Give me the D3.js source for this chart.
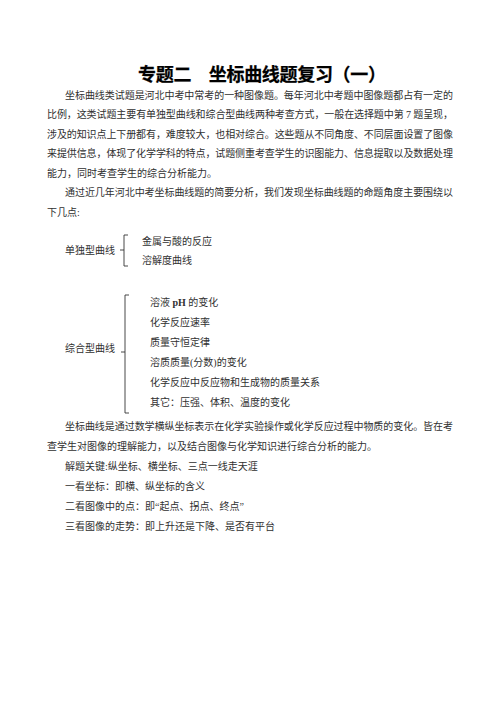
<!DOCTYPE html>
<html>
<head>
<meta charset="utf-8">
<script src="https://cdn.jsdelivr.net/npm/d3@7"></script>
<style>
  html, body { margin: 0; padding: 0; background: #fff; }
  svg { display: block; }
</style>
</head>
<body>
<div id="chart"></div>
<script>
// ---------- content ----------
const titleText = "专题二\u3000坐标曲线题复习（一）";

const introParagraphs = [
  [
    "坐标曲线类试题是河北中考中常考的一种图像题。每年河北中考题中图像题都占有一定的",
    "比例，这类试题主要有单独型曲线和综合型曲线两种考查方式，一般在选择题中第 7 题呈现，",
    "涉及的知识点上下册都有，难度较大，也相对综合。这些题从不同角度、不同层面设置了图像",
    "来提供信息，体现了化学学科的特点，试题侧重考查学生的识图能力、信息提取以及数据处理",
    "能力，同时考查学生的综合分析能力。"
  ],
  [
    "通过近几年河北中考坐标曲线题的简要分析，我们发现坐标曲线题的命题角度主要围绕以",
    "下几点:"
  ]
];

const singleLabel = "单独型曲线";
const singleItems = ["金属与酸的反应", "溶解度曲线"];

const comboLabel = "综合型曲线";
const comboItems = [
  "溶液 pH 的变化",
  "化学反应速率",
  "质量守恒定律",
  "溶质质量(分数)的变化",
  "化学反应中反应物和生成物的质量关系",
  "其它：压强、体积、温度的变化"
];

const outroParagraphs = [
  [
    "坐标曲线是通过数学横纵坐标表示在化学实验操作或化学反应过程中物质的变化。皆在考",
    "查学生对图像的理解能力，以及结合图像与化学知识进行综合分析的能力。"
  ],
  ["解题关键:纵坐标、横坐标、三点一线走天涯"],
  ["一看坐标：即横、纵坐标的含义"],
  ["二看图像中的点：即“起点、拐点、终点”"],
  ["三看图像的走势：即上升还是下降、是否有平台"]
];

// ---------- layout ----------
const W = 496, H = 702;
const FONT = "'Liberation Serif', 'Noto Sans CJK SC', serif";
const TITLE_FONT = "'Noto Sans CJK SC', sans-serif";
const fs = 10;
const TXT = "#303030";
const left = 47, right = 453, indent = 18;

const svg = d3.select("#chart").append("svg")
  .attr("width", W).attr("height", H)
  .attr("viewBox", `0 0 ${W} ${H}`);

function flatten(paras) {
  const out = [];
  paras.forEach(p => p.forEach((t, i) => out.push({
    text: t, first: i === 0, last: i === p.length - 1
  })));
  return out;
}

function drawBlock(lines, yScale, cls) {
  svg.append("g").attr("class", cls)
    .selectAll("text").data(lines).join("text")
    .attr("x", d => d.first ? left + indent : left)
    .attr("y", (d, i) => yScale(i))
    .attr("dominant-baseline", "central")
    .attr("font-family", FONT)
    .attr("font-size", fs)
    .attr("fill", TXT)
    .each(function (d) {
      if (!d.last) {
        const x0 = d.first ? left + indent : left;
        d3.select(this).attr("textLength", right - x0).attr("lengthAdjust", "spacing");
      }
    })
    .text(d => d.text);
}

// title
svg.append("text")
  .attr("x", 138).attr("y", 73)
  .attr("dominant-baseline", "central")
  .attr("font-family", TITLE_FONT)
  .attr("font-weight", "bold")
  .attr("font-size", 18)
  .attr("textLength", 248).attr("lengthAdjust", "spacing")
  .attr("fill", "#000")
  .attr("stroke", "#000").attr("stroke-width", 0.25)
  .text(titleText);

// intro paragraphs
const introLines = flatten(introParagraphs);
const yIntro = d3.scaleLinear().domain([0, introLines.length - 1]).range([95, 212]);
drawBlock(introLines, yIntro, "intro");

// outro paragraphs
const outroLines = flatten(outroParagraphs);
const yOutro = d3.scaleLinear().domain([0, outroLines.length - 1]).range([426, 526]);
drawBlock(outroLines, yOutro, "outro");

// brace groups
function drawGroup(label, items, yScale, labelY, braceX, top, bottom, mid, itemX) {
  const g = svg.append("g");
  g.append("text")
    .attr("x", 65).attr("y", labelY)
    .attr("dominant-baseline", "central")
    .attr("font-family", FONT).attr("font-size", fs).attr("fill", TXT)
    .text(label);
  g.selectAll("text.item").data(items).join("text")
    .attr("class", "item")
    .attr("x", itemX).attr("y", (d, i) => yScale(i))
    .attr("dominant-baseline", "central")
    .attr("font-family", FONT).attr("font-size", fs).attr("fill", TXT)
    .each(function (d) {
      const t = d3.select(this);
      // render Latin "pH" in bold as in the source
      const parts = d.split(/(pH)/);
      parts.forEach(s => {
        if (!s) return;
        t.append("tspan").attr("font-weight", s === "pH" ? "bold" : null).text(s);
      });
    });
  const p = d3.path();
  p.moveTo(braceX + 4, top);
  p.lineTo(braceX, top);
  p.lineTo(braceX, bottom);
  p.lineTo(braceX + 4, bottom);
  p.moveTo(braceX, mid);
  p.lineTo(braceX - 4, mid);
  g.append("path").attr("d", p.toString())
    .attr("fill", "none").attr("stroke", "#333").attr("stroke-width", 0.9);
}

const ySingle = d3.scaleLinear().domain([0, singleItems.length - 1]).range([241, 260]);
drawGroup(singleLabel, singleItems, ySingle, 250, 124, 235, 266, 250, 142);

const yCombo = d3.scaleLinear().domain([0, comboItems.length - 1]).range([302, 402]);
drawGroup(comboLabel, comboItems, yCombo, 348, 125, 295, 413, 352, 150);
</script>
</body>
</html>
